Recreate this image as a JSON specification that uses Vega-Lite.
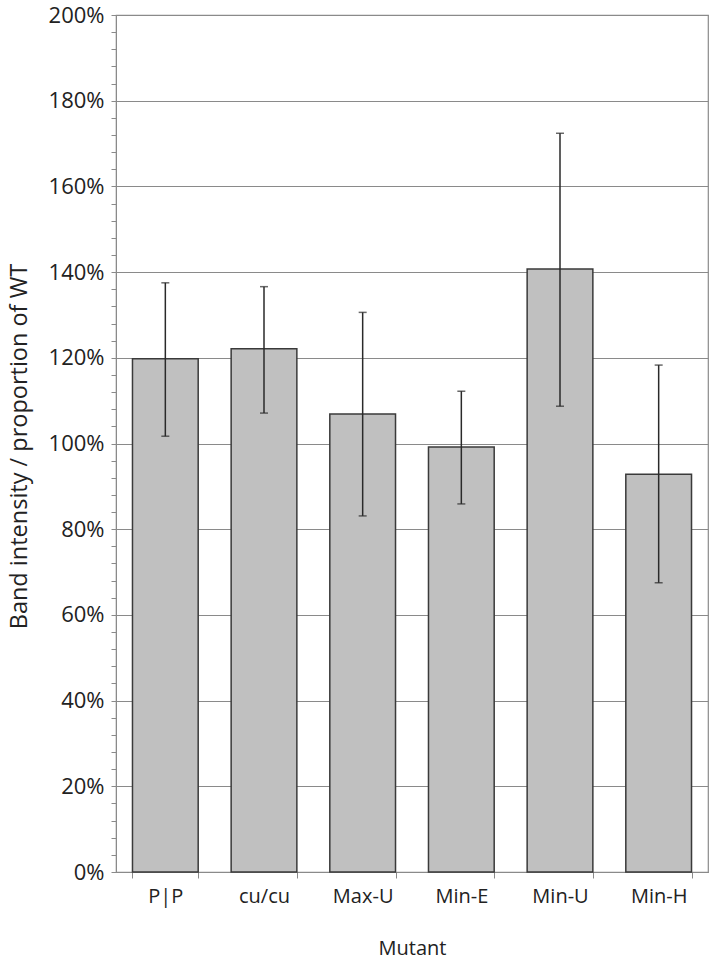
{
  "$schema": "https://vega.github.io/schema/vega-lite/v6.json",
  "autosize": {"type": "none"},
  "padding": {"left": 116, "top": 15, "right": 3, "bottom": 89},
  "width": 592,
  "height": 857,
  "background": "white",
  "config": {
    "font": "Open Sans",
    "view": {"stroke": "#8a8a8a", "strokeWidth": 1.2},
    "axis": {"labelFont": "Open Sans", "titleFont": "Open Sans", "labelFontSize": 20, "titleFontSize": 20, "labelColor": "#222", "titleColor": "#222", "titleFontWeight": "normal", "domainColor": "#8a8a8a", "tickColor": "#8a8a8a"}
  },
  "data": {
    "values": [
      {"mutant": "P|P", "value": 1.198, "lower": 1.017, "upper": 1.375},
      {"mutant": "cu/cu", "value": 1.221, "lower": 1.071, "upper": 1.366},
      {"mutant": "Max-U", "value": 1.069, "lower": 0.831, "upper": 1.306},
      {"mutant": "Min-E", "value": 0.992, "lower": 0.859, "upper": 1.122},
      {"mutant": "Min-U", "value": 1.407, "lower": 1.087, "upper": 1.724},
      {"mutant": "Min-H", "value": 0.928, "lower": 0.675, "upper": 1.183}
    ]
  },
  "encoding": {
    "x": {
      "field": "mutant", "type": "nominal", "sort": null,
      "scale": {"paddingInner": 0.334, "paddingOuter": 0.167},
      "axis": {"title": "Mutant", "labelAngle": 0, "tickBand": "extent", "tickSize": 6, "labelPadding": 8, "titleY": 76, "titleBaseline": "middle", "domainColor": "#8a8a8a"}
    }
  },
  "layer": [
    {
      "mark": {"type": "bar", "fill": "#c0c0c0", "stroke": "#3a3a3a", "strokeWidth": 1.5},
      "encoding": {
        "y": {
          "field": "value", "type": "quantitative",
          "scale": {"domain": [0, 2], "nice": false},
          "axis": {
            "title": "Band intensity / proportion of WT",
            "values": [0,0.04,0.08,0.12,0.16,0.2,0.24,0.28,0.32,0.36,0.4,0.44,0.48,0.52,0.56,0.6,0.64,0.68,0.72,0.76,0.8,0.84,0.88,0.92,0.96,1,1.04,1.08,1.12,1.16,1.2,1.24,1.28,1.32,1.36,1.4,1.44,1.48,1.52,1.56,1.6,1.64,1.68,1.72,1.76,1.8,1.84,1.88,1.92,1.96,2],
            "tickCount": 100,
            "labelExpr": "abs(datum.value*5 - round(datum.value*5)) < 0.001 ? format(datum.value, '.0%') : ''",
            "labelOverlap": false,
            "labelBound": false,
            "labelFontSize": 22,
            "grid": true,
            "gridColor": "#8a8a8a",
            "gridWidth": 1.2,
            "gridOpacity": {"condition": {"test": "abs(datum.value*5 - round(datum.value*5)) < 0.001", "value": 1}, "value": 0},
            "tickSize": 5,
            "labelPadding": 7,
            "titleFontSize": 23.5,
            "titleX": -97,
            "titleY": 431,
            "titleAlign": "center",
            "titleBaseline": "middle",
            "titleAngle": -90
          }
        }
      }
    },
    {
      "mark": {"type": "rule", "color": "#2a2a2a", "strokeWidth": 1.5},
      "encoding": {"y": {"field": "lower", "type": "quantitative"}, "y2": {"field": "upper"}}
    },
    {
      "mark": {"type": "tick", "color": "#2a2a2a", "thickness": 1.5, "size": 8, "orient": "horizontal"},
      "encoding": {"y": {"field": "upper", "type": "quantitative"}}
    },
    {
      "mark": {"type": "tick", "color": "#2a2a2a", "thickness": 1.5, "size": 8, "orient": "horizontal"},
      "encoding": {"y": {"field": "lower", "type": "quantitative"}}
    }
  ]
}
